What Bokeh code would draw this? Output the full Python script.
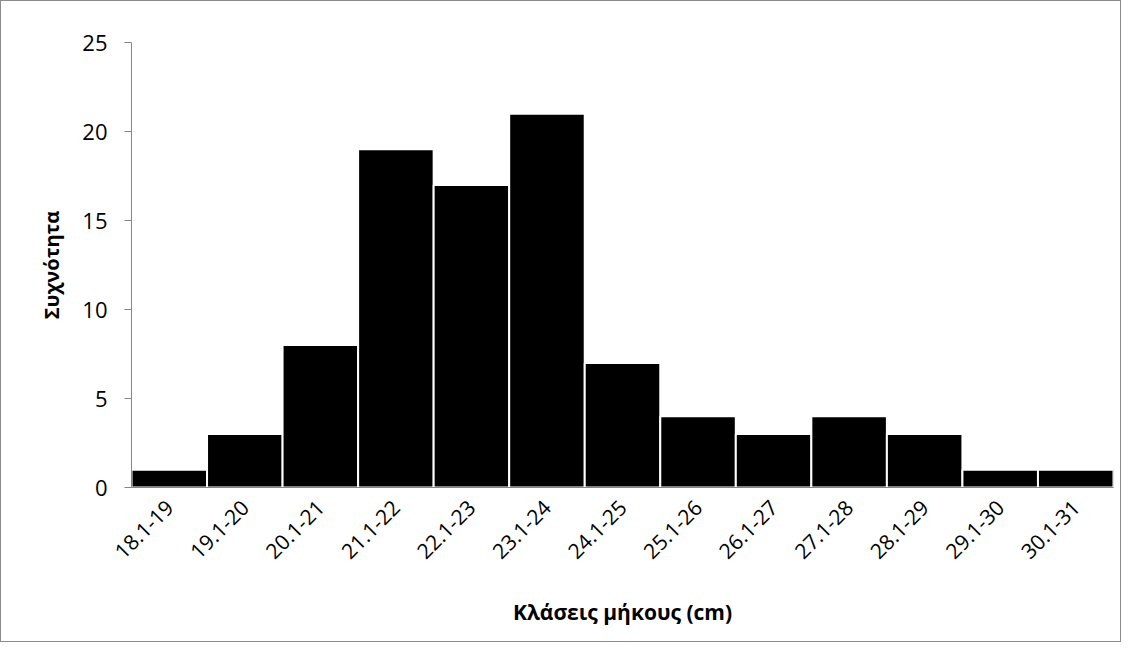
from bokeh.plotting import figure
from bokeh.models import ColumnDataSource, FactorRange
from bokeh.embed import file_html
from bokeh.resources import INLINE
import math

# length classes (cm) and frequency of each class
classes = ["18.1-19", "19.1-20", "20.1-21", "21.1-22", "22.1-23", "23.1-24", "24.1-25",
           "25.1-26", "26.1-27", "27.1-28", "28.1-29", "29.1-30", "30.1-31"]
counts = [1, 3, 8, 19, 17, 21, 7, 4, 3, 4, 3, 1, 1]
y_ticks = [0, 5, 10, 15, 20, 25]

source = ColumnDataSource(data={"cls": classes, "n": counts})

p = figure(x_range=FactorRange(*classes, range_padding=0), y_range=(0, 25),
           width=1121, height=642, output_backend="svg", toolbar_location=None,
           x_axis_label="Κλάσεις μήκους (cm)", y_axis_label="Συχνότητα",
           min_border_left=130, min_border_right=9, min_border_top=41, min_border_bottom=156)

p.vbar(x="cls", top="n", width=1.0, source=source, fill_color="black",
       line_color="white", line_width=2)

# plain white background, no grid
p.xgrid.visible = False
p.ygrid.visible = False
p.outline_line_color = None
p.styles = {"border": "1px solid #8c8c8c"}

font = "Open Sans"
p.yaxis.ticker = y_ticks
p.yaxis.axis_line_color = "#868686"
p.yaxis.major_tick_line_color = "#868686"
p.yaxis.major_tick_out = 7
p.yaxis.major_tick_in = 0
p.yaxis.minor_tick_line_color = None
p.yaxis.major_label_text_font = font
p.yaxis.major_label_text_font_size = "22px"
p.yaxis.major_label_text_color = "black"
p.yaxis.major_label_standoff = 17
p.yaxis.axis_label_text_font = font
p.yaxis.axis_label_text_font_size = "20px"
p.yaxis.axis_label_text_font_style = "bold"
p.yaxis.axis_label_text_color = "black"
p.yaxis.axis_label_standoff = 14

p.xaxis.axis_line_color = "#868686"
p.xaxis.major_tick_line_color = None
p.xaxis.minor_tick_line_color = None
p.xaxis.major_label_orientation = math.pi / 4
p.xaxis.major_label_text_font = font
p.xaxis.major_label_text_font_size = "21px"
p.xaxis.major_label_text_color = "black"
p.xaxis.major_label_standoff = 10
p.xaxis.axis_label_text_font = font
p.xaxis.axis_label_text_font_size = "21px"
p.xaxis.axis_label_text_font_style = "bold"
p.xaxis.axis_label_text_color = "black"
p.xaxis.axis_label_standoff = 29

open("out.html", "w").write(file_html(p, INLINE))
